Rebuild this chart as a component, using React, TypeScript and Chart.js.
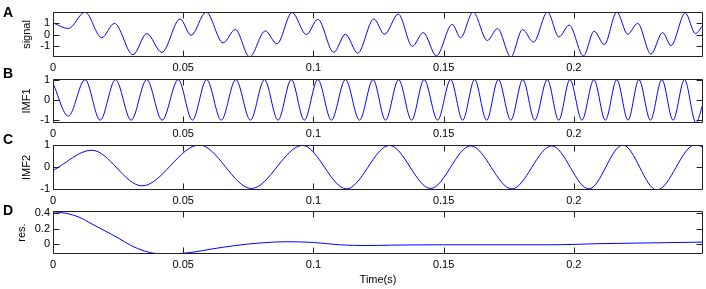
import React, { useEffect, useRef } from 'react';
import { Chart, registerables } from 'chart.js';

Chart.register(...registerables);

const W = 706;
const H = 289;

const timeMax = 0.2496;
const timeTicks = [0, 0.05, 0.1, 0.15, 0.2];

// signal: extrema (time in s, value)
const signalTime = [0, 0.0059, 0.0123, 0.0187, 0.0236, 0.0307, 0.036, 0.0418, 0.0488, 0.053, 0.0588, 0.0653, 0.07, 0.0755, 0.0815, 0.086, 0.0918, 0.0973, 0.1017, 0.1078, 0.1123, 0.117, 0.1232, 0.1273, 0.1326, 0.138, 0.1422, 0.1472, 0.1533, 0.1565, 0.1613, 0.1668, 0.1707, 0.1758, 0.1803, 0.1845, 0.1899, 0.1943, 0.1982, 0.2037, 0.2078, 0.2117, 0.2165, 0.2207, 0.2245, 0.2296, 0.2341, 0.2373, 0.2428, 0.2467, 0.2496];
const signalValue = [1.0, 0.52, 1.91, -0.26, 0.96, -1.71, 0.09, -1.51, 1.33, -0.06, 1.91, -0.7, 0.43, -1.89, 0.31, -0.78, 1.88, 0.0, 1.3, -1.51, 0.03, -1.57, 1.33, 0.03, 1.74, -0.99, 0.17, -1.8, 0.87, -0.26, 1.91, -0.5, 0.52, -1.89, 0.43, -0.64, 1.91, -0.2, 0.81, -1.8, 0.29, -0.84, 1.91, 0.03, 0.96, -1.65, 0.17, -0.93, 1.83, 0.09, 0.81];

// IMF1
const imf1Time = [0, 0.0059, 0.0123, 0.0181, 0.024, 0.03, 0.036, 0.0419, 0.0481, 0.0535, 0.059, 0.0646, 0.0702, 0.0758, 0.0812, 0.0864, 0.0915, 0.0965, 0.1017, 0.1069, 0.1123, 0.1177, 0.1229, 0.1277, 0.1327, 0.1377, 0.1425, 0.1477, 0.1527, 0.1573, 0.1619, 0.1665, 0.171, 0.1758, 0.1804, 0.185, 0.1898, 0.1942, 0.1985, 0.2031, 0.2077, 0.2121, 0.2165, 0.2208, 0.225, 0.2294, 0.2338, 0.2381, 0.2425, 0.2469, 0.2496];
const imf1Value = [0.82, -0.8, 1.0, -1.0, 1.0, -1.0, 1.0, -1.0, 1.0, -1.0, 1.0, -1.0, 1.0, -1.0, 1.0, -1.0, 1.0, -1.0, 1.0, -1.0, 1.0, -1.0, 1.0, -1.0, 1.0, -1.0, 1.0, -1.0, 1.0, -1.0, 1.0, -1.0, 1.0, -1.0, 1.0, -1.0, 1.0, -1.0, 1.0, -1.0, 1.0, -1.0, 1.0, -1.0, 1.0, -1.0, 1.0, -1.0, 1.0, -1.13, -0.2];

// IMF2
const imf2Time = [0, 0.0149, 0.0342, 0.0562, 0.0762, 0.0958, 0.1127, 0.1292, 0.145, 0.1604, 0.1762, 0.1915, 0.2058, 0.2188, 0.2319, 0.2465, 0.2496];
const imf2Value = [-0.15, 0.78, -0.86, 1.02, -0.98, 1.0, -1.0, 1.0, -0.98, 0.98, -1.0, 0.98, -1.0, 1.02, -1.05, 1.02, 0.94];

// residue
const resTime = [0, 0.005, 0.01, 0.015, 0.02, 0.025, 0.03, 0.035, 0.04, 0.045, 0.05, 0.055, 0.06, 0.07, 0.08, 0.09, 0.1, 0.11, 0.12, 0.13, 0.15, 0.17, 0.19, 0.2, 0.21, 0.22, 0.23, 0.24, 0.2496];
const resValue = [0.42, 0.4, 0.35, 0.26, 0.17, 0.08, -0.02, -0.09, -0.125, -0.13, -0.12, -0.1, -0.07, -0.02, 0.015, 0.03, 0.02, -0.01, -0.02, -0.015, -0.01, -0.01, -0.01, -0.005, 0.005, 0.01, 0.015, 0.02, 0.025];

const signalTicks = [-1, 0, 1];
const imf1Ticks = [-1, 0, 1];
const imf2Ticks = [-1, 0, 1];
const resTicks = [0, 0.2, 0.4];

const FONT = "'Liberation Sans', Arial, sans-serif";
const LINE = '#0000ff';
const AXIS = '#222222';
const TICK_LEN = 6;

type PanelCfg = {
  letter: string;
  letterY: number;
  label: string;
  time: number[];
  value: number[];
  ticks: number[];
  yMin: number;
  yMax: number;
  top: number;
  bottom: number;
  padLeft: number;
  xTitle: string;
  xh: number;
};

const panels: PanelCfg[] = [
  { letter: 'A', letterY: 12, label: 'signal', time: signalTime, value: signalValue, ticks: signalTicks, yMin: -1.9, yMax: 1.92, top: 12, bottom: 57, padLeft: 20, xTitle: '', xh: 20 },
  { letter: 'B', letterY: 73, label: 'IMF1', time: imf1Time, value: imf1Value, ticks: imf1Ticks, yMin: -1.14, yMax: 1.03, top: 79, bottom: 123, padLeft: 20, xTitle: '', xh: 20 },
  { letter: 'C', letterY: 139, label: 'IMF2', time: imf2Time, value: imf2Value, ticks: imf2Ticks, yMin: -1.05, yMax: 1.02, top: 145, bottom: 190, padLeft: 20, xTitle: '', xh: 20 },
  { letter: 'D', letterY: 210, label: 'res.', time: resTime, value: resValue, ticks: resTicks, yMin: -0.13, yMax: 0.43, top: 211, bottom: 254, padLeft: 15, xTitle: 'Time(s)', xh: 35 },
];

const boxPlugin = {
  id: 'matlabBox',
  afterDatasetsDraw(chart: any) {
    const { ctx, chartArea } = chart;
    const xs = chart.scales.x;
    const ys = chart.scales.y;
    const l = Math.round(chartArea.left) + 0.5;
    const r = Math.round(chartArea.right) - 0.5;
    const t = Math.round(chartArea.top) + 0.5;
    const b = Math.round(chartArea.bottom) - 0.5;
    ctx.save();
    ctx.strokeStyle = AXIS;
    ctx.lineWidth = 1;
    ctx.beginPath();
    ctx.rect(l, t, r - l, b - t);
    for (const tk of xs.ticks) {
      const px = Math.round(xs.getPixelForValue(tk.value)) + 0.5;
      ctx.moveTo(px, b);
      ctx.lineTo(px, b - TICK_LEN);
      ctx.moveTo(px, t);
      ctx.lineTo(px, t + TICK_LEN);
    }
    for (const tk of ys.ticks) {
      const py = Math.round(ys.getPixelForValue(tk.value)) + 0.5;
      ctx.moveTo(l, py);
      ctx.lineTo(l + TICK_LEN, py);
      ctx.moveTo(r, py);
      ctx.lineTo(r - TICK_LEN, py);
    }
    ctx.stroke();
    ctx.restore();
  },
};

export default function App() {
  const refs = useRef<(HTMLCanvasElement | null)[]>([]);

  useEffect(() => {
    const charts: Chart[] = [];
    panels.forEach((p, i) => {
      const canvas = refs.current[i];
      if (!canvas) return;
      const chart = new Chart(canvas, {
        type: 'line',
        data: {
          datasets: [
            {
              data: p.time.map((t, k) => ({ x: t, y: p.value[k] })),
              borderColor: LINE,
              borderWidth: 1,
              pointRadius: 0,
              fill: false,
              cubicInterpolationMode: 'monotone',
            },
          ],
        },
        options: {
          animation: false,
          responsive: false,
          devicePixelRatio: 1,
          events: [],
          layout: {
            padding: { left: p.padLeft, right: W - 703, top: p.top, bottom: H - p.bottom - p.xh },
          },
          plugins: { legend: { display: false }, tooltip: { enabled: false }, title: { display: false } },
          scales: {
            x: {
              type: 'linear',
              min: 0,
              max: timeMax,
              afterBuildTicks: (ax: any) => {
                ax.ticks = timeTicks.map((v) => ({ value: v }));
              },
              afterFit: (ax: any) => {
                ax.height = p.xh;
              },
              grid: { display: false, drawTicks: false },
              border: { display: false },
              ticks: {
                padding: 4,
                color: '#000',
                autoSkip: false,
                maxRotation: 0,
                font: { family: FONT, size: 11 },
                callback: (v: any) => String(v),
              },
              title: {
                display: p.xTitle !== '',
                text: p.xTitle,
                color: '#000',
                font: { family: FONT, size: 11 },
                padding: { top: 0, bottom: 2 },
              },
            },
            y: {
              type: 'linear',
              min: p.yMin,
              max: p.yMax,
              afterBuildTicks: (ax: any) => {
                ax.ticks = p.ticks.map((v) => ({ value: v }));
              },
              afterFit: (ax: any) => {
                ax.width = 53 - p.padLeft;
              },
              grid: { display: false, drawTicks: false },
              border: { display: false },
              ticks: {
                padding: 3,
                color: '#000',
                autoSkip: false,
                font: { family: FONT, size: 11 },
                callback: (v: any) => String(v),
              },
              title: {
                display: true,
                text: p.label,
                color: '#000',
                font: { family: FONT, size: 11 },
                padding: { top: 0, bottom: 0 },
              },
            },
          },
        },
        plugins: [boxPlugin],
      } as any);
      charts.push(chart);
    });
    return () => charts.forEach((c) => c.destroy());
  }, []);

  return (
    <div style={{ position: 'fixed', left: 0, top: 0, width: W, height: H, background: '#fff', overflow: 'hidden' }}>
      {panels.map((p, i) => (
        <canvas
          key={p.letter}
          ref={(el) => {
            refs.current[i] = el;
          }}
          width={W}
          height={H}
          style={{ position: 'absolute', left: 0, top: 0, width: W, height: H }}
        />
      ))}
      {panels.map((p) => (
        <div
          key={'l' + p.letter}
          style={{
            position: 'absolute',
            left: 3,
            top: p.letterY - 7,
            font: `bold 14px ${FONT}`,
            lineHeight: '14px',
            color: '#000',
          }}
        >
          {p.letter}
        </div>
      ))}
    </div>
  );
}
